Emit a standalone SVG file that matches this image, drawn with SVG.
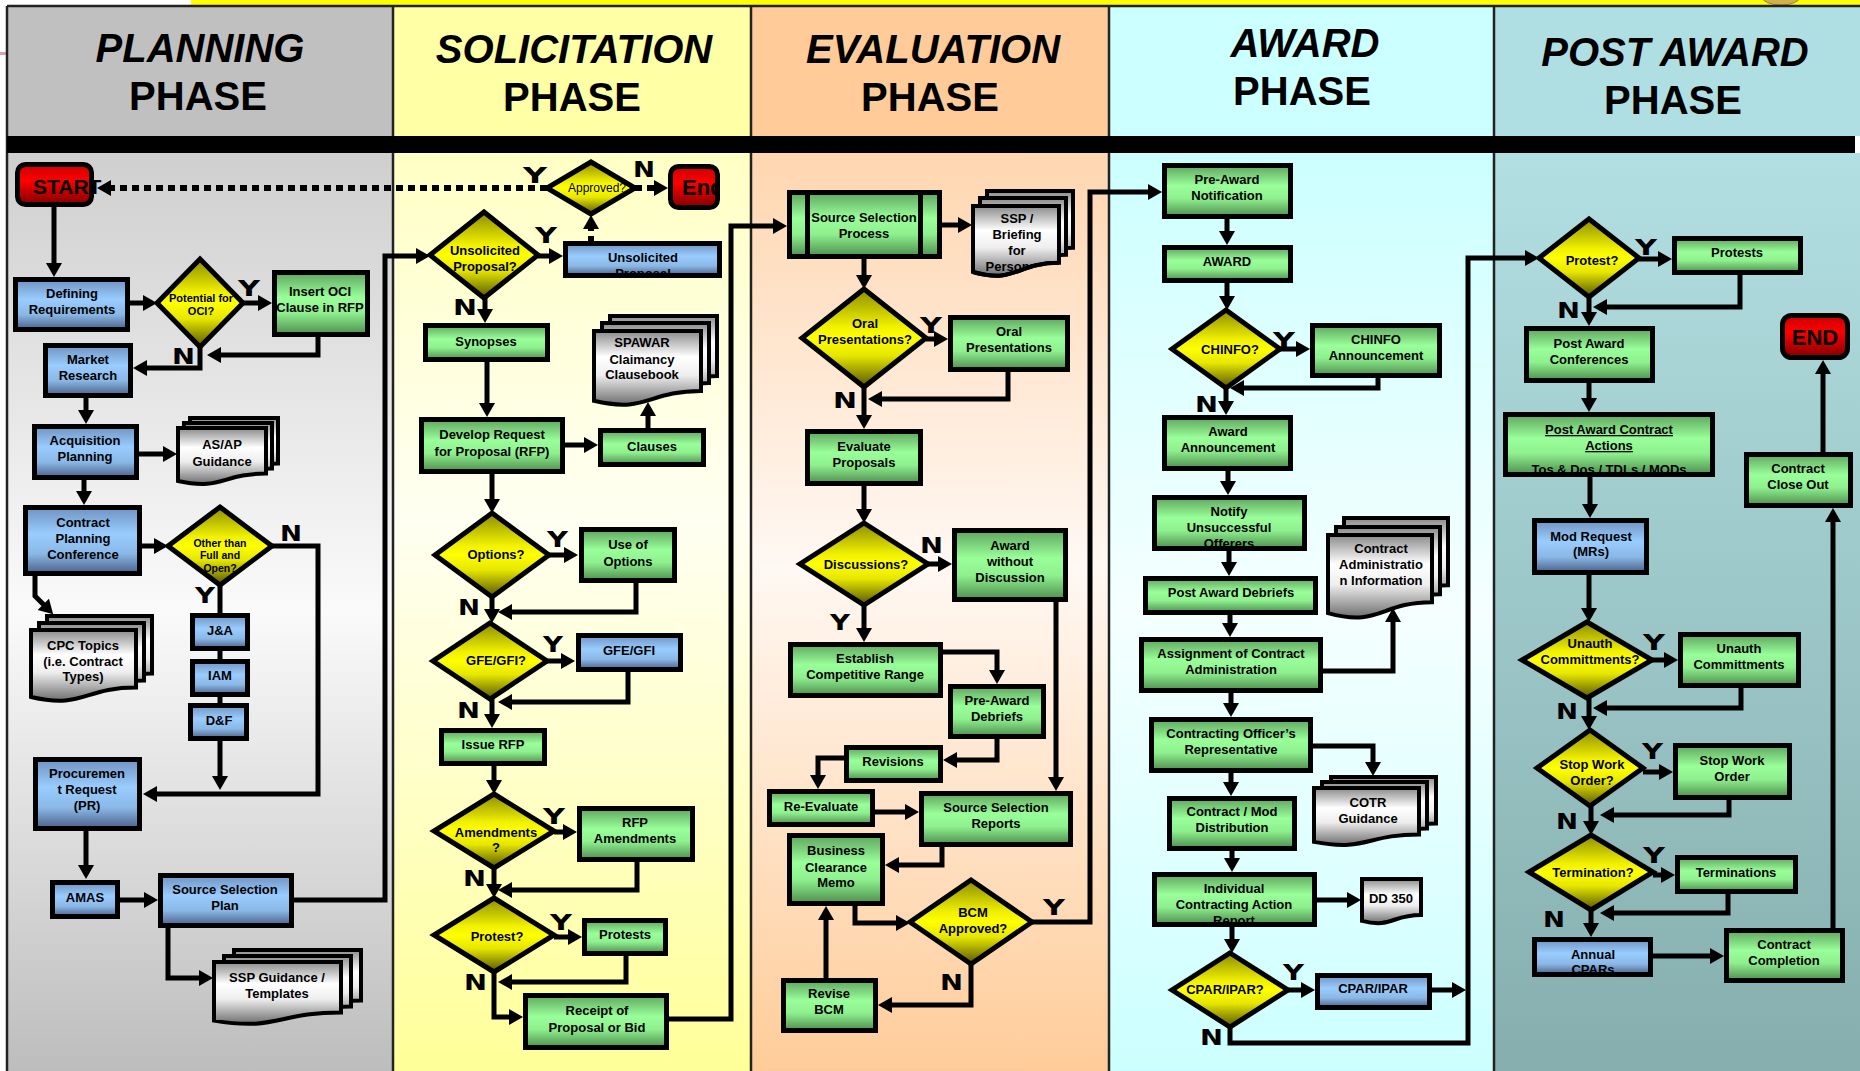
<svg xmlns="http://www.w3.org/2000/svg" width="1860" height="1071" viewBox="0 0 1860 1071">
<defs>
<style>
.bx{stroke:#000;stroke-width:5}
.g{fill:url(#gG)}.b{fill:url(#gB)}.r{fill:url(#gR)}
.dia{fill:url(#gY);stroke:#000;stroke-width:5}
.doc{fill:url(#gW);stroke:#000;stroke-width:4}
.t{font-family:"Liberation Sans",Arial,sans-serif;font-weight:bold;font-size:13px;text-anchor:middle;fill:#000}
.yn{font-family:"DejaVu Sans",sans-serif;font-weight:bold;font-size:21px;fill:#000}
.c{fill:none;stroke:#000;stroke-width:5;marker-end:url(#ah)}
.p{fill:none;stroke:#000;stroke-width:5}
.dot{fill:none;stroke:#000;stroke-width:6;stroke-dasharray:7 5;marker-end:url(#ah)}
.h1{font-family:"Liberation Sans",Arial,sans-serif;font-weight:bold;font-style:italic;font-size:40px;text-anchor:middle;fill:#000}
.h2{font-family:"Liberation Sans",Arial,sans-serif;font-weight:bold;font-size:40px;text-anchor:middle;fill:#000}
.big{font-family:"Liberation Sans",Arial,sans-serif;font-weight:bold;font-size:21px;fill:#000}
.lane{stroke:#222;stroke-width:2.5}
.u{text-decoration:underline}
</style>
<marker id="ah" markerUnits="userSpaceOnUse" markerWidth="15" markerHeight="16" refX="1" refY="8" orient="auto" overflow="visible"><path d="M0,0 L14,8 L0,16 Z" fill="#000"/></marker>
<linearGradient id="gG" x1="0" y1="0" x2="0" y2="1"><stop offset="0" stop-color="#5fa55f"/><stop offset="0.4" stop-color="#99ff99"/><stop offset="0.65" stop-color="#8ef08e"/><stop offset="1" stop-color="#4e8e4e"/></linearGradient>
<linearGradient id="gB" x1="0" y1="0" x2="0" y2="1"><stop offset="0" stop-color="#6f93c0"/><stop offset="0.4" stop-color="#99ccff"/><stop offset="0.7" stop-color="#8ab8e6"/><stop offset="1" stop-color="#4a6088"/></linearGradient>
<linearGradient id="gY" x1="0" y1="0" x2="0" y2="1"><stop offset="0" stop-color="#8c8c00"/><stop offset="0.38" stop-color="#f0f000"/><stop offset="0.5" stop-color="#ffff00"/><stop offset="0.68" stop-color="#e6e600"/><stop offset="1" stop-color="#555500"/></linearGradient>
<linearGradient id="gW" x1="0" y1="0" x2="0" y2="1"><stop offset="0" stop-color="#8a8a8a"/><stop offset="0.35" stop-color="#ffffff"/><stop offset="0.6" stop-color="#eeeeee"/><stop offset="1" stop-color="#6e6e6e"/></linearGradient>
<linearGradient id="gR" x1="0" y1="0" x2="0" y2="1"><stop offset="0" stop-color="#cc0000"/><stop offset="0.4" stop-color="#ff0000"/><stop offset="1" stop-color="#800000"/></linearGradient>
<linearGradient id="lPl" x1="0" y1="0" x2="0" y2="1"><stop offset="0" stop-color="#cfcfcf"/><stop offset="0.5" stop-color="#fafafa"/><stop offset="1" stop-color="#bdbdbd"/></linearGradient>
<linearGradient id="lSo" x1="0" y1="0" x2="0" y2="1"><stop offset="0" stop-color="#ffffc4"/><stop offset="0.4" stop-color="#fffff2"/><stop offset="1" stop-color="#ffff99"/></linearGradient>
<linearGradient id="lEv" x1="0" y1="0" x2="0" y2="1"><stop offset="0" stop-color="#ffd6b0"/><stop offset="0.45" stop-color="#fff8f3"/><stop offset="1" stop-color="#ffcc99"/></linearGradient>
<linearGradient id="lAw" x1="0" y1="0" x2="0" y2="1"><stop offset="0" stop-color="#ccffff"/><stop offset="0.5" stop-color="#f5ffff"/><stop offset="1" stop-color="#ccffff"/></linearGradient>
<linearGradient id="lPo" x1="0" y1="0" x2="0" y2="1"><stop offset="0" stop-color="#b2dfe2"/><stop offset="1" stop-color="#86aeae"/></linearGradient>
<clipPath id="cEnd"><rect x="673" y="169" width="42" height="36"/></clipPath>
<clipPath id="cUP"><rect x="568" y="246" width="149" height="27.5"/></clipPath>
<clipPath id="cNot"><rect x="1157" y="500" width="145" height="46.5"/></clipPath>
<clipPath id="cICAR"><rect x="1157" y="877" width="155" height="45"/></clipPath>
<clipPath id="cPACA"><rect x="1508" y="417" width="202" height="55"/></clipPath>
<clipPath id="cAnn"><rect x="1537" y="942" width="111" height="30"/></clipPath>
<clipPath id="cBrief"><path transform="translate(973,206)" d="M0,0H86V56.8C43,56.8 43,78.1 0,66Z"/></clipPath>
<clipPath id="cTop"><rect x="0" y="0" width="1860" height="5"/></clipPath>
</defs>

<rect x="0" y="0" width="1860" height="1071" fill="#ffffff"/>
<rect x="191" y="0" width="1669" height="6" fill="#ffff00"/>
<ellipse cx="1781" cy="-3" rx="19" ry="8" fill="#d2b04c" stroke="#a08030" stroke-width="1" clip-path="url(#cTop)"/>
<rect x="0" y="52" width="6" height="3" fill="#e0a0b0"/>

<g id="lanes">
<rect x="7" y="6" width="386" height="130" fill="#c0c0c0"/>
<rect x="393" y="6" width="358" height="130" fill="#ffffa6"/>
<rect x="751" y="6" width="358" height="130" fill="#ffcc99"/>
<rect x="1109" y="6" width="385" height="130" fill="#ccffff"/>
<rect x="1494" y="6" width="366" height="130" fill="#b0dfe3"/>
<rect x="7" y="153" width="386" height="918" fill="url(#lPl)"/>
<rect x="393" y="153" width="358" height="918" fill="url(#lSo)"/>
<rect x="751" y="153" width="358" height="918" fill="url(#lEv)"/>
<rect x="1109" y="153" width="385" height="918" fill="url(#lAw)"/>
<rect x="1494" y="153" width="366" height="918" fill="url(#lPo)"/>
<line x1="7" y1="6" x2="1860" y2="6" class="lane"/>
<line x1="7" y1="6" x2="7" y2="1071" class="lane"/>
<line x1="393" y1="6" x2="393" y2="1071" class="lane"/>
<line x1="751" y1="6" x2="751" y2="1071" class="lane"/>
<line x1="1109" y1="6" x2="1109" y2="1071" class="lane"/>
<line x1="1494" y1="6" x2="1494" y2="1071" class="lane"/>
<rect x="7" y="136" width="1848" height="17" fill="#000"/>
<text class="h1" x="200" y="62">PLANNING</text><text class="h2" x="198" y="110">PHASE</text>
<text class="h1" x="574" y="63">SOLICITATION</text><text class="h2" x="572" y="111">PHASE</text>
<text class="h1" x="933" y="63">EVALUATION</text><text class="h2" x="930" y="111">PHASE</text>
<text class="h1" x="1305" y="57">AWARD</text><text class="h2" x="1302" y="105">PHASE</text>
<text class="h1" x="1675" y="66">POST AWARD</text><text class="h2" x="1673" y="114">PHASE</text>
</g>

<g id="connectors">
<path class="c" d="M54,207 V264"/>
<path class="c" d="M130,303 H144"/>
<path class="c" d="M243,303 H259"/>
<path class="c" d="M318,337 V355 H220"/>
<path class="c" d="M200,347 V368 H146"/>
<path class="c" d="M86,398 V411"/>
<path class="c" d="M139,454 H164"/>
<path class="c" d="M84,480 V492"/>
<path class="c" d="M142,546 H155"/>
<path class="c" d="M272,546 H318 V794 H156"/>
<path class="p" d="M220,585 V613 M220,651 V659 M220,697 V703"/>
<path class="c" d="M220,741 V777"/>
<path class="c" d="M35,576 V596 L44,605"/>
<path class="c" d="M86,831 V866"/>
<path class="c" d="M120,900 H145"/>
<path class="c" d="M168,928 V978 H200"/>
<path class="c" d="M294,900 H385 V256 H417"/>
<path class="dot" d="M547,188 H110"/>
<path class="dot" d="M635,188 H655"/>
<path class="dot" d="M591,243 V228"/>
<path class="c" d="M538,256 H550"/>
<path class="c" d="M485,298 V310"/>
<path class="c" d="M487,362 V404"/>
<path class="c" d="M565,445 H585"/>
<path class="c" d="M648,428 V415"/>
<path class="c" d="M492,474 V500"/>
<path class="c" d="M549,555 H565"/>
<path class="c" d="M636,583 V612 H511"/>
<path class="c" d="M492,597 V610"/>
<path class="c" d="M547,661 H562"/>
<path class="c" d="M628,672 V702 H511"/>
<path class="c" d="M492,699 V715"/>
<path class="c" d="M494,766 V781"/>
<path class="c" d="M554,832 H564"/>
<path class="c" d="M637,862 V890 H511"/>
<path class="c" d="M494,868 V885"/>
<path class="c" d="M554,937 H569"/>
<path class="c" d="M626,956 V982 H511"/>
<path class="c" d="M494,972 V1017 H510"/>
<path class="c" d="M669,1019 H731 V226 H774"/>
<path class="c" d="M942,225 H959"/>
<path class="c" d="M864,259 V276"/>
<path class="c" d="M926,339 H935"/>
<path class="c" d="M1008,372 V399 H881"/>
<path class="c" d="M864,387 V416"/>
<path class="c" d="M864,486 V510"/>
<path class="c" d="M928,564 H939"/>
<path class="c" d="M1056,602 V778"/>
<path class="c" d="M864,605 V629"/>
<path class="c" d="M943,652 H997 V671"/>
<path class="c" d="M997,739 V760 H956"/>
<path class="c" d="M844,758 H818 V776"/>
<path class="c" d="M875,812 H906"/>
<path class="c" d="M942,847 V865 H898"/>
<path class="c" d="M855,906 V923 H897"/>
<path class="c" d="M1032,922 H1090 V192 H1149"/>
<path class="c" d="M971,964 V1005 H891"/>
<path class="c" d="M826,978 V919"/>
<path class="c" d="M1227,219 V232"/>
<path class="c" d="M1227,283 V297"/>
<path class="c" d="M1280,349 H1297"/>
<path class="c" d="M1378,378 V388 H1243"/>
<path class="c" d="M1226,388 V402"/>
<path class="c" d="M1228,471 V482"/>
<path class="c" d="M1229,551 V563"/>
<path class="c" d="M1230,615 V624"/>
<path class="c" d="M1323,671 H1393 V621"/>
<path class="c" d="M1231,693 V704"/>
<path class="c" d="M1313,746 H1373 V763"/>
<path class="c" d="M1231,773 V783"/>
<path class="c" d="M1232,851 V859"/>
<path class="c" d="M1317,900 H1348"/>
<path class="c" d="M1232,927 V940"/>
<path class="c" d="M1288,990 H1302"/>
<path class="c" d="M1432,990 H1453"/>
<path class="c" d="M1230,1027 V1043 H1468 V258 H1526"/>
<path class="c" d="M1639,259 H1659"/>
<path class="c" d="M1740,275 V307 H1606"/>
<path class="c" d="M1589,297 V313"/>
<path class="c" d="M1589,383 V399"/>
<path class="c" d="M1590,477 V505"/>
<path class="c" d="M1589,575 V609"/>
<path class="c" d="M1652,660 H1665"/>
<path class="c" d="M1741,688 V708 H1606"/>
<path class="c" d="M1589,698 V717"/>
<path class="c" d="M1643,772 H1660"/>
<path class="c" d="M1729,800 V815 H1613"/>
<path class="c" d="M1591,806 V822"/>
<path class="c" d="M1653,875 H1662"/>
<path class="c" d="M1728,894 V913 H1613"/>
<path class="c" d="M1591,910 V924"/>
<path class="c" d="M1653,956 H1711"/>
<path class="c" d="M1833,928 V521"/>
<path class="c" d="M1823,452 V373"/>
</g>

<g id="labels">
<text class="yn" x="238" y="296" textLength="22" lengthAdjust="spacingAndGlyphs">Y</text>
<text class="yn" x="172" y="364" textLength="23" lengthAdjust="spacingAndGlyphs">N</text>
<text class="yn" x="280" y="541" textLength="22" lengthAdjust="spacingAndGlyphs">N</text>
<text class="yn" x="195" y="603" textLength="20" lengthAdjust="spacingAndGlyphs">Y</text>
<text class="yn" x="523" y="183" textLength="24" lengthAdjust="spacingAndGlyphs">Y</text>
<text class="yn" x="633" y="177" textLength="22" lengthAdjust="spacingAndGlyphs">N</text>
<text class="yn" x="535" y="243" textLength="22" lengthAdjust="spacingAndGlyphs">Y</text>
<text class="yn" x="453" y="315" textLength="24" lengthAdjust="spacingAndGlyphs">N</text>
<text class="yn" x="547" y="547" textLength="21" lengthAdjust="spacingAndGlyphs">Y</text>
<text class="yn" x="458" y="615" textLength="22" lengthAdjust="spacingAndGlyphs">N</text>
<text class="yn" x="543" y="652" textLength="20" lengthAdjust="spacingAndGlyphs">Y</text>
<text class="yn" x="457" y="718" textLength="23" lengthAdjust="spacingAndGlyphs">N</text>
<text class="yn" x="543" y="824" textLength="22" lengthAdjust="spacingAndGlyphs">Y</text>
<text class="yn" x="463" y="886" textLength="23" lengthAdjust="spacingAndGlyphs">N</text>
<text class="yn" x="550" y="930" textLength="22" lengthAdjust="spacingAndGlyphs">Y</text>
<text class="yn" x="464" y="990" textLength="23" lengthAdjust="spacingAndGlyphs">N</text>
<text class="yn" x="920" y="333" textLength="22" lengthAdjust="spacingAndGlyphs">Y</text>
<text class="yn" x="833" y="408" textLength="24" lengthAdjust="spacingAndGlyphs">N</text>
<text class="yn" x="920" y="553" textLength="23" lengthAdjust="spacingAndGlyphs">N</text>
<text class="yn" x="830" y="630" textLength="20" lengthAdjust="spacingAndGlyphs">Y</text>
<text class="yn" x="1043" y="915" textLength="22" lengthAdjust="spacingAndGlyphs">Y</text>
<text class="yn" x="940" y="990" textLength="23" lengthAdjust="spacingAndGlyphs">N</text>
<text class="yn" x="1273" y="348" textLength="22" lengthAdjust="spacingAndGlyphs">Y</text>
<text class="yn" x="1195" y="412" textLength="23" lengthAdjust="spacingAndGlyphs">N</text>
<text class="yn" x="1283" y="980" textLength="21" lengthAdjust="spacingAndGlyphs">Y</text>
<text class="yn" x="1200" y="1045" textLength="23" lengthAdjust="spacingAndGlyphs">N</text>
<text class="yn" x="1635" y="255" textLength="22" lengthAdjust="spacingAndGlyphs">Y</text>
<text class="yn" x="1557" y="318" textLength="23" lengthAdjust="spacingAndGlyphs">N</text>
<text class="yn" x="1643" y="650" textLength="22" lengthAdjust="spacingAndGlyphs">Y</text>
<text class="yn" x="1556" y="719" textLength="22" lengthAdjust="spacingAndGlyphs">N</text>
<text class="yn" x="1642" y="759" textLength="21" lengthAdjust="spacingAndGlyphs">Y</text>
<text class="yn" x="1556" y="829" textLength="22" lengthAdjust="spacingAndGlyphs">N</text>
<text class="yn" x="1643" y="863" textLength="22" lengthAdjust="spacingAndGlyphs">Y</text>
<text class="yn" x="1543" y="927" textLength="22" lengthAdjust="spacingAndGlyphs">N</text>
</g>

<!-- PLANNING -->
<g id="start"><rect x="17.5" y="164.5" width="74" height="40" rx="8" class="r bx"/><text class="big" x="33" y="194">START</text></g>
<g id="defreq"><rect x="15.5" y="279.5" width="112" height="50" class="b bx"/><text class="t"><tspan x="72" y="298">Defining</tspan><tspan x="72" y="314">Requirements</tspan></text></g>
<g id="oci-q"><polygon points="200,259 243,303 200,347 157,303" class="dia"/><text class="t" style="font-size:11px"><tspan x="201" y="302">Potential for</tspan><tspan x="201" y="315">OCI?</tspan></text></g>
<g id="insert-oci"><rect x="274.5" y="272.5" width="93" height="62" class="g bx"/><text class="t"><tspan x="320" y="296">Insert OCI</tspan><tspan x="320" y="312">Clause in RFP</tspan></text></g>
<g id="market"><rect x="45.5" y="345.5" width="85" height="50" class="b bx"/><text class="t"><tspan x="88" y="364">Market</tspan><tspan x="88" y="380">Research</tspan></text></g>
<g id="acqplan"><rect x="34.5" y="426.5" width="102" height="51" class="b bx"/><text class="t"><tspan x="85" y="445">Acquisition</tspan><tspan x="85" y="461">Planning</tspan></text></g>
<g id="asap"><path class="doc" transform="translate(190,418)" d="M0,0H88V45.6C44,45.6 44,62.7 0,53Z"/><path class="doc" transform="translate(184,423)" d="M0,0H88V45.6C44,45.6 44,62.7 0,53Z"/><path class="doc" transform="translate(178,428)" d="M0,0H88V45.6C44,45.6 44,62.7 0,53Z"/><text class="t"><tspan x="222" y="449">AS/AP</tspan><tspan x="222" y="466">Guidance</tspan></text></g>
<g id="cpc"><rect x="25.5" y="507.5" width="114" height="66" class="b bx"/><text class="t"><tspan x="83" y="527">Contract</tspan><tspan x="83" y="543">Planning</tspan><tspan x="83" y="559">Conference</tspan></text></g>
<g id="other-q"><polygon points="220,507 272,546 220,585 168,546" class="dia"/><text class="t" style="font-size:10.5px"><tspan x="220" y="547">Other than</tspan><tspan x="220" y="559">Full and</tspan><tspan x="220" y="572">Open?</tspan></text></g>
<g id="ja"><rect x="192.5" y="615.5" width="55" height="33" class="b bx"/><text class="t" x="220" y="635">J&amp;A</text></g>
<g id="iam"><rect x="192.5" y="661.5" width="55" height="33" class="b bx"/><text class="t" x="220" y="680">IAM</text></g>
<g id="df"><rect x="190.5" y="705.5" width="56" height="33" class="b bx"/><text class="t" x="219" y="725">D&amp;F</text></g>
<g id="cpc-topics"><path class="doc" transform="translate(47,616)" d="M0,0H105V57.6C52.5,57.6 52.5,79.2 0,67Z"/><path class="doc" transform="translate(39,623)" d="M0,0H105V57.6C52.5,57.6 52.5,79.2 0,67Z"/><path class="doc" transform="translate(31,630)" d="M0,0H105V57.6C52.5,57.6 52.5,79.2 0,67Z"/><text class="t"><tspan x="83" y="650">CPC Topics</tspan><tspan x="83" y="666">(i.e. Contract</tspan><tspan x="83" y="681">Types)</tspan></text></g>
<g id="pr"><rect x="35.5" y="759.5" width="104" height="69" class="b bx"/><text class="t"><tspan x="87" y="778">Procuremen</tspan><tspan x="87" y="794">t Request</tspan><tspan x="87" y="810">(PR)</tspan></text></g>
<g id="amas"><rect x="52.5" y="882.5" width="65" height="34" class="b bx"/><text class="t" x="85" y="902">AMAS</text></g>
<g id="ssplan"><rect x="160.5" y="875.5" width="131" height="50" class="b bx"/><text class="t"><tspan x="225" y="894">Source Selection</tspan><tspan x="225" y="910">Plan</tspan></text></g>
<g id="ssp-guid"><path class="doc" transform="translate(234,950)" d="M0,0H127V50.4C63.5,50.4 63.5,69.3 0,58.6Z"/><path class="doc" transform="translate(224,956)" d="M0,0H127V50.4C63.5,50.4 63.5,69.3 0,58.6Z"/><path class="doc" transform="translate(214,962)" d="M0,0H127V50.4C63.5,50.4 63.5,69.3 0,58.6Z"/><text class="t"><tspan x="277" y="982">SSP Guidance /</tspan><tspan x="277" y="998">Templates</tspan></text></g>

<!-- SOLICITATION -->
<g id="approved-q"><polygon points="591,162 635,188 591,214 547,188" class="dia"/><text x="568" y="192" style="font-family:'Liberation Sans',Arial,sans-serif;font-size:12px;fill:#000">Approved?</text></g>
<g id="end1"><rect x="670.5" y="166.5" width="47" height="41" rx="8" class="r bx"/><text class="big" x="682" y="195" style="font-size:22px" clip-path="url(#cEnd)">End</text></g>
<g id="unsol-q"><polygon points="484,212 538,255 484,298 430,255" class="dia"/><text class="t"><tspan x="485" y="255">Unsolicited</tspan><tspan x="485" y="271">Proposal?</tspan></text></g>
<g id="unsol"><rect x="565.5" y="243.5" width="154" height="32" class="b bx"/><text class="t" clip-path="url(#cUP)"><tspan x="643" y="262">Unsolicited</tspan><tspan x="643" y="278">Proposal</tspan></text></g>
<g id="synopses"><rect x="425.5" y="325.5" width="122" height="34" class="g bx"/><text class="t" x="486" y="346">Synopses</text></g>
<g id="devrfp"><rect x="421.5" y="419.5" width="141" height="52" class="g bx"/><text class="t"><tspan x="492" y="439">Develop Request</tspan><tspan x="492" y="456">for Proposal (RFP)</tspan></text></g>
<g id="clauses"><rect x="600.5" y="430.5" width="103" height="34" class="g bx"/><text class="t" x="652" y="451">Clauses</text></g>
<g id="spawar"><path class="doc" transform="translate(610,316)" d="M0,0H107V60C53.5,60 53.5,82.5 0,69.8Z"/><path class="doc" transform="translate(602,323)" d="M0,0H107V60C53.5,60 53.5,82.5 0,69.8Z"/><path class="doc" transform="translate(594,331)" d="M0,0H107V60C53.5,60 53.5,82.5 0,69.8Z"/><text class="t"><tspan x="642" y="347">SPAWAR</tspan><tspan x="642" y="364">Claimancy</tspan><tspan x="642" y="379">Clausebook</tspan></text></g>
<g id="options-q"><polygon points="492,513 549,555 492,597 435,555" class="dia"/><text class="t" x="496" y="559">Options?</text></g>
<g id="useopt"><rect x="581.5" y="529.5" width="93" height="51" class="g bx"/><text class="t"><tspan x="628" y="549">Use of</tspan><tspan x="628" y="566">Options</tspan></text></g>
<g id="gfe-q"><polygon points="490,623 547,661 490,699 433,661" class="dia"/><text class="t" x="496" y="665">GFE/GFI?</text></g>
<g id="gfe"><rect x="578.5" y="635.5" width="102" height="34" class="b bx"/><text class="t" x="629" y="655">GFE/GFI</text></g>
<g id="issuerfp"><rect x="441.5" y="730.5" width="103" height="33" class="g bx"/><text class="t" x="493" y="749">Issue RFP</text></g>
<g id="amend-q"><polygon points="494,794 554,831 494,868 434,831" class="dia"/><text class="t"><tspan x="496" y="837">Amendments</tspan><tspan x="496" y="852">?</tspan></text></g>
<g id="rfpamend"><rect x="579.5" y="808.5" width="113" height="51" class="g bx"/><text class="t"><tspan x="635" y="827">RFP</tspan><tspan x="635" y="843">Amendments</tspan></text></g>
<g id="protest-q1"><polygon points="494,898 554,935 494,972 434,935" class="dia"/><text class="t" x="497" y="941">Protest?</text></g>
<g id="protests1"><rect x="584.5" y="920.5" width="81" height="33" class="g bx"/><text class="t" x="625" y="939">Protests</text></g>
<g id="receipt"><rect x="525.5" y="995.5" width="141" height="52" class="g bx"/><text class="t"><tspan x="597" y="1015">Receipt of</tspan><tspan x="597" y="1032">Proposal or Bid</tspan></text></g>

<!-- EVALUATION -->
<g id="ssprocess"><rect x="789.5" y="192.5" width="150" height="64" class="g bx"/><path class="p" d="M807.5,192 V257 M920.5,192 V257"/><text class="t"><tspan x="864" y="222">Source Selection</tspan><tspan x="864" y="238">Process</tspan></text></g>
<g id="briefing"><path class="doc" transform="translate(987,191)" d="M0,0H86V56.8C43,56.8 43,78.1 0,66Z"/><path class="doc" transform="translate(980,198)" d="M0,0H86V56.8C43,56.8 43,78.1 0,66Z"/><path class="doc" transform="translate(973,206)" d="M0,0H86V56.8C43,56.8 43,78.1 0,66Z"/><text class="t" clip-path="url(#cBrief)"><tspan x="1017" y="223">SSP /</tspan><tspan x="1017" y="239">Briefing</tspan><tspan x="1017" y="255">for</tspan><tspan x="1017" y="271">Personnel</tspan></text><path transform="translate(973,206)" d="M86,56.8C43,56.8 43,78.1 0,66" fill="none" stroke="#000" stroke-width="4"/></g>
<g id="oral-q"><polygon points="864,289 926,338 864,387 802,338" class="dia"/><text class="t"><tspan x="865" y="328">Oral</tspan><tspan x="865" y="344">Presentations?</tspan></text></g>
<g id="oral"><rect x="950.5" y="317.5" width="117" height="52" class="g bx"/><text class="t"><tspan x="1009" y="336">Oral</tspan><tspan x="1009" y="352">Presentations</tspan></text></g>
<g id="evalprop"><rect x="807.5" y="431.5" width="113" height="52" class="g bx"/><text class="t"><tspan x="864" y="451">Evaluate</tspan><tspan x="864" y="467">Proposals</tspan></text></g>
<g id="disc-q"><polygon points="864,523 928,564 864,605 800,564" class="dia"/><text class="t" x="866" y="569">Discussions?</text></g>
<g id="awd"><rect x="954.5" y="530.5" width="111" height="69" class="g bx"/><text class="t"><tspan x="1010" y="550">Award</tspan><tspan x="1010" y="566">without</tspan><tspan x="1010" y="582">Discussion</tspan></text></g>
<g id="ecr"><rect x="790.5" y="644.5" width="150" height="51" class="g bx"/><text class="t"><tspan x="865" y="663">Establish</tspan><tspan x="865" y="679">Competitive Range</tspan></text></g>
<g id="preaward-deb"><rect x="950.5" y="686.5" width="93" height="50" class="g bx"/><text class="t"><tspan x="997" y="705">Pre-Award</tspan><tspan x="997" y="721">Debriefs</tspan></text></g>
<g id="revisions"><rect x="846.5" y="747.5" width="94" height="33" class="g bx"/><text class="t" x="893" y="766">Revisions</text></g>
<g id="reeval"><rect x="769.5" y="791.5" width="103" height="33" class="g bx"/><text class="t" x="821" y="811">Re-Evaluate</text></g>
<g id="ssr"><rect x="921.5" y="793.5" width="149" height="51" class="g bx"/><text class="t"><tspan x="996" y="812">Source Selection</tspan><tspan x="996" y="828">Reports</tspan></text></g>
<g id="bcm"><rect x="789.5" y="835.5" width="93" height="68" class="g bx"/><text class="t"><tspan x="836" y="855">Business</tspan><tspan x="836" y="872">Clearance</tspan><tspan x="836" y="887">Memo</tspan></text></g>
<g id="bcm-q"><polygon points="971,880 1032,922 971,964 910,922" class="dia"/><text class="t"><tspan x="973" y="917">BCM</tspan><tspan x="973" y="933">Approved?</tspan></text></g>
<g id="revise-bcm"><rect x="783.5" y="980.5" width="92" height="50" class="g bx"/><text class="t"><tspan x="829" y="998">Revise</tspan><tspan x="829" y="1014">BCM</tspan></text></g>

<!-- AWARD -->
<g id="pan"><rect x="1164.5" y="165.5" width="126" height="51" class="g bx"/><text class="t"><tspan x="1227" y="184">Pre-Award</tspan><tspan x="1227" y="200">Notification</tspan></text></g>
<g id="award"><rect x="1164.5" y="247.5" width="126" height="33" class="g bx"/><text class="t" x="1227" y="266">AWARD</text></g>
<g id="chinfo-q"><polygon points="1226,310 1280,349 1226,388 1172,349" class="dia"/><text class="t" x="1230" y="354">CHINFO?</text></g>
<g id="chinfo"><rect x="1312.5" y="325.5" width="127" height="50" class="g bx"/><text class="t"><tspan x="1376" y="344">CHINFO</tspan><tspan x="1376" y="360">Announcement</tspan></text></g>
<g id="award-ann"><rect x="1164.5" y="417.5" width="126" height="51" class="g bx"/><text class="t"><tspan x="1228" y="436">Award</tspan><tspan x="1228" y="452">Announcement</tspan></text></g>
<g id="notify"><rect x="1154.5" y="497.5" width="150" height="51" class="g bx"/><text class="t" clip-path="url(#cNot)"><tspan x="1229" y="516">Notify</tspan><tspan x="1229" y="532">Unsuccessful</tspan><tspan x="1229" y="548">Offerers</tspan></text></g>
<g id="pad"><rect x="1145.5" y="578.5" width="170" height="34" class="g bx"/><text class="t" x="1231" y="597">Post Award Debriefs</text></g>
<g id="cai"><path class="doc" transform="translate(1344,518)" d="M0,0H104V67.2C52,67.2 52,92.4 0,78.1Z"/><path class="doc" transform="translate(1336,527)" d="M0,0H104V67.2C52,67.2 52,92.4 0,78.1Z"/><path class="doc" transform="translate(1328,535)" d="M0,0H104V67.2C52,67.2 52,92.4 0,78.1Z"/><text class="t"><tspan x="1381" y="553">Contract</tspan><tspan x="1381" y="569">Administratio</tspan><tspan x="1381" y="585">n Information</tspan></text></g>
<g id="assign"><rect x="1141.5" y="639.5" width="179" height="51" class="g bx"/><text class="t"><tspan x="1231" y="658">Assignment of Contract</tspan><tspan x="1231" y="674">Administration</tspan></text></g>
<g id="cor"><rect x="1151.5" y="719.5" width="159" height="51" class="g bx"/><text class="t"><tspan x="1231" y="738">Contracting Officer’s</tspan><tspan x="1231" y="754">Representative</tspan></text></g>
<g id="cotr"><path class="doc" transform="translate(1331,777)" d="M0,0H105V46.4C52.5,46.4 52.5,63.8 0,53.9Z"/><path class="doc" transform="translate(1322,782)" d="M0,0H105V46.4C52.5,46.4 52.5,63.8 0,53.9Z"/><path class="doc" transform="translate(1314,788)" d="M0,0H105V46.4C52.5,46.4 52.5,63.8 0,53.9Z"/><text class="t"><tspan x="1368" y="807">COTR</tspan><tspan x="1368" y="823">Guidance</tspan></text></g>
<g id="cmd"><rect x="1169.5" y="798.5" width="125" height="50" class="g bx"/><text class="t"><tspan x="1232" y="816">Contract / Mod</tspan><tspan x="1232" y="832">Distribution</tspan></text></g>
<g id="icar"><rect x="1154.5" y="874.5" width="160" height="50" class="g bx"/><text class="t" clip-path="url(#cICAR)"><tspan x="1234" y="893">Individual</tspan><tspan x="1234" y="909">Contracting Action</tspan><tspan x="1234" y="925">Report</tspan></text></g>
<g id="dd350"><path class="doc" transform="translate(1362,879)" d="M0,0H59V36C29.5,36 29.5,49.5 0,41.9Z"/><text class="t" x="1391" y="903">DD 350</text></g>
<g id="cpar-q"><polygon points="1230,953 1288,990 1230,1027 1172,990" class="dia"/><text class="t" x="1225" y="994">CPAR/IPAR?</text></g>
<g id="cpar"><rect x="1317.5" y="975.5" width="112" height="32" class="b bx"/><text class="t" x="1373" y="993">CPAR/IPAR</text></g>

<!-- POST AWARD -->
<g id="protest-q2"><polygon points="1589,219 1639,258 1589,297 1539,258" class="dia"/><text class="t" x="1592" y="265">Protest?</text></g>
<g id="protests2"><rect x="1674.5" y="238.5" width="126" height="34" class="g bx"/><text class="t" x="1737" y="257">Protests</text></g>
<g id="pac"><rect x="1526.5" y="328.5" width="126" height="52" class="g bx"/><text class="t"><tspan x="1589" y="348">Post Award</tspan><tspan x="1589" y="364">Conferences</tspan></text></g>
<g id="paca"><rect x="1505.5" y="414.5" width="207" height="60" class="g bx"/><text class="t" clip-path="url(#cPACA)"><tspan class="u" x="1609" y="434">Post Award Contract</tspan><tspan class="u" x="1609" y="450">Actions</tspan><tspan x="1609" y="474">Tos &amp; Dos / TDLs / MODs</tspan></text></g>
<g id="modreq"><rect x="1534.5" y="520.5" width="112" height="52" class="b bx"/><text class="t"><tspan x="1591" y="541">Mod Request</tspan><tspan x="1591" y="556">(MRs)</tspan></text></g>
<g id="end2"><rect x="1782.5" y="315.5" width="65" height="42" rx="9" class="r bx"/><text class="big" x="1815" y="345" style="font-size:22px;text-anchor:middle">END</text></g>
<g id="closeout"><rect x="1746.5" y="454.5" width="104" height="51" class="g bx"/><text class="t"><tspan x="1798" y="473">Contract</tspan><tspan x="1798" y="489">Close Out</tspan></text></g>
<g id="unauth-q"><polygon points="1587,622 1652,660 1587,698 1522,660" class="dia"/><text class="t"><tspan x="1590" y="648">Unauth</tspan><tspan x="1590" y="664">Committments?</tspan></text></g>
<g id="unauth"><rect x="1680.5" y="634.5" width="118" height="51" class="g bx"/><text class="t"><tspan x="1739" y="653">Unauth</tspan><tspan x="1739" y="669">Committments</tspan></text></g>
<g id="stop-q"><polygon points="1590,730 1643,768 1590,806 1537,768" class="dia"/><text class="t"><tspan x="1592" y="769">Stop Work</tspan><tspan x="1592" y="785">Order?</tspan></text></g>
<g id="stop"><rect x="1675.5" y="745.5" width="114" height="52" class="g bx"/><text class="t"><tspan x="1732" y="765">Stop Work</tspan><tspan x="1732" y="781">Order</tspan></text></g>
<g id="term-q"><polygon points="1591,835 1653,872 1591,910 1529,872" class="dia"/><text class="t" x="1593" y="877">Termination?</text></g>
<g id="terms"><rect x="1677.5" y="857.5" width="118" height="34" class="g bx"/><text class="t" x="1736" y="877">Terminations</text></g>
<g id="annual"><rect x="1534.5" y="939.5" width="116" height="35" class="b bx"/><text class="t" clip-path="url(#cAnn)"><tspan x="1593" y="959">Annual</tspan><tspan x="1593" y="974">CPARs</tspan></text></g>
<g id="completion"><rect x="1726.5" y="930.5" width="116" height="50" class="g bx"/><text class="t"><tspan x="1784" y="949">Contract</tspan><tspan x="1784" y="965">Completion</tspan></text></g>
</svg>
